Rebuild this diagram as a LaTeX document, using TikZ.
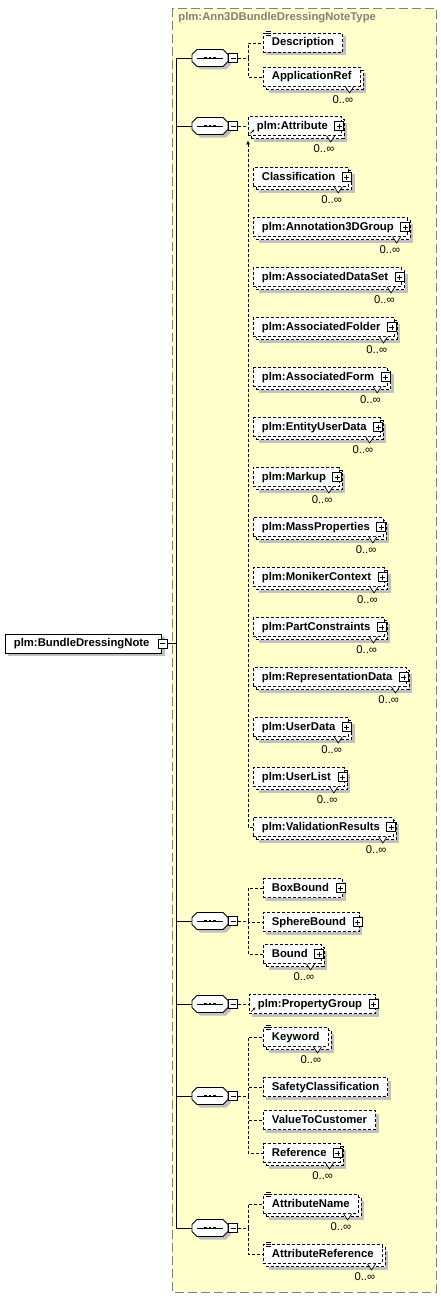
\documentclass[tikz,border=0pt]{standalone}
\usepackage{fontspec}
\setmainfont{Liberation Sans}
\usetikzlibrary{positioning,shadows,arrows.meta}
\definecolor{typeyellow}{RGB}{255,255,204}
\definecolor{typeborder}{RGB}{128,128,128}
\definecolor{shadowgrey}{RGB}{192,192,192}
\begin{document}
\begin{tikzpicture}[
    x=1pt, y=-1pt,
    line width=0.8pt,
    elem/.style={
        draw,
        dash pattern=on 3pt off 2pt,
        fill=white,
        anchor=west,
        inner xsep=8.5pt,
        inner ysep=0pt,
        text height=8.5pt,
        text depth=2.5pt,
        minimum height=19pt,
        font=\fontsize{11.3}{13}\selectfont\bfseries,
        drop shadow={shadow xshift=3pt, shadow yshift=-3pt, fill=shadowgrey, opacity=1}
    },
    root/.style={elem, solid, execute at end node={\hspace{3.5pt}}},
    many/.style={
        drop shadow={shadow xshift=6pt, shadow yshift=-6pt, fill=shadowgrey, opacity=1},
        copy shadow={shadow xshift=3pt, shadow yshift=-3pt, draw, dash pattern=on 3pt off 2pt, fill=white}
    },
    expand/.style={execute at end node={\hspace{5pt}}},
    member/.style={elem, expand, many},
    ref/.style={path picture={
        \draw[solid, line width=0.7pt, -{Stealth[length=2.5pt, width=2.5pt]}]
            ([shift={(2pt,2pt)}]path picture bounding box.south west) -- ++(4pt,4pt);}},
    pbox/.style={draw, solid, fill=white, minimum size=9pt, inner sep=0pt, line width=0.7pt,
        path picture={
            \draw ([xshift=2pt]path picture bounding box.west) -- ([xshift=-2pt]path picture bounding box.east)
                  ([yshift=2pt]path picture bounding box.south) -- ([yshift=-2pt]path picture bounding box.north);}},
    mbox/.style={draw, solid, fill=white, minimum size=9pt, inner sep=0pt, line width=0.7pt,
        path picture={
            \draw ([xshift=2pt]path picture bounding box.west) -- ([xshift=-2pt]path picture bounding box.east);}},
    seq/.style={minimum width=36pt, minimum height=17pt, inner sep=0pt},
    conn/.style={dash pattern=on 3pt off 2pt},
    occ/.style={font=\fontsize{11.3}{13}\selectfont, inner sep=0pt, anchor=east},
    title/.style={font=\fontsize{11.3}{13}\selectfont\bfseries, text=typeborder, inner sep=0pt, anchor=west},
    typebox/.style={draw=typeborder, fill=typeyellow, dash pattern=on 9pt off 4pt}
]
\useasboundingbox (0,0) rectangle (441,1298);

% complex type area
\draw[typebox] (172,8) rectangle (436,1292);
\node[title] (typename) at (178,18) {plm:Ann3DBundleDressingNoteType};

% root element
\node[root] (bdn) at (5,643.5) {plm:BundleDressingNote};
\node[mbox] (bdn-m) at ([xshift=0.5pt]bdn.east) {};

% sequences
\node[seq] (seqA) at (210,58) {};
\node[seq] (seqB) at (210,126) {};
\node[seq] (seqC) at (210,921) {};
\node[seq] (seqD) at (210,1004) {};
\node[seq] (seqE) at (210,1096) {};
\node[seq] (seqF) at (210,1228) {};
\foreach \s in {seqA,seqB,seqC,seqD,seqE,seqF} {
    \fill[shadowgrey] ([shift={(3pt,-3pt)}]\s.center) +(-18pt,3.5pt) -- +(-13pt,8.5pt) -- +(13pt,8.5pt) -- +(18pt,3.5pt)
        -- +(18pt,-3.5pt) -- +(13pt,-8.5pt) -- +(-13pt,-8.5pt) -- +(-18pt,-3.5pt) -- cycle;
    \draw[fill=white] (\s.center) +(-18pt,3.5pt) -- +(-13pt,8.5pt) -- +(13pt,8.5pt) -- +(18pt,3.5pt)
        -- +(18pt,-3.5pt) -- +(13pt,-8.5pt) -- +(-13pt,-8.5pt) -- +(-18pt,-3.5pt) -- cycle;
    \draw ([xshift=-13pt]\s.center) -- ([xshift=13pt]\s.center);
    \foreach \d in {-4.3,0,4.3}
        \fill ([xshift=\d pt]\s.center) +(-1.3pt,-1.3pt) rectangle +(1.3pt,1.3pt);
    \node[mbox, anchor=west] (\s-m) at (\s.east) {};
}

% first sequence
\node[elem] (desc) at (263,43) {Description};
\node[elem, many] (appref) at (263,77) {ApplicationRef};

% attribute substitution group
\node[elem, ref, expand, many] (attr) at (248,126) {plm:Attribute};
\node[member] (classif) at (253,177) {Classification};
\node[member, below=50pt of classif.west, anchor=west] (ann3d) {plm:Annotation3DGroup};
\node[member, below=50pt of ann3d.west, anchor=west] (assocds) {plm:AssociatedDataSet};
\node[member, below=50pt of assocds.west, anchor=west] (assocfolder) {plm:AssociatedFolder};
\node[member, below=50pt of assocfolder.west, anchor=west] (assocform) {plm:AssociatedForm};
\node[member, below=50pt of assocform.west, anchor=west] (entity) {plm:EntityUserData};
\node[member, below=50pt of entity.west, anchor=west] (markup) {plm:Markup};
\node[member, below=50pt of markup.west, anchor=west] (mass) {plm:MassProperties};
\node[member, below=50pt of mass.west, anchor=west] (moniker) {plm:MonikerContext};
\node[member, below=50pt of moniker.west, anchor=west] (partc) {plm:PartConstraints};
\node[member, below=50pt of partc.west, anchor=west] (repdata) {plm:RepresentationData};
\node[member, below=50pt of repdata.west, anchor=west] (userdata) {plm:UserData};
\node[member, below=50pt of userdata.west, anchor=west] (userlist) {plm:UserList};
\node[member, below=50pt of userlist.west, anchor=west] (valid) {plm:ValidationResults};

% bounds
\node[elem, expand] (boxb) at (263,888) {BoxBound};
\node[elem, expand] (sphere) at (263,922) {SphereBound};
\node[elem, expand, many] (bound) at (263,954) {Bound};

% property group
\node[elem, ref, expand] (propgrp) at (249,1004) {plm:PropertyGroup};

% classification data
\node[elem, many] (keyword) at (263,1037) {Keyword};
\node[elem] (safety) at (263,1087) {SafetyClassification};
\node[elem] (valuecust) at (263,1120) {ValueToCustomer};
\node[elem, expand, many] (reference) at (263,1153) {Reference};

% attribute names
\node[elem, many] (attrname) at (263,1204) {AttributeName};
\node[elem, many] (attrref) at (263,1254) {AttributeReference};

% expand boxes
\foreach \n in {attr,classif,ann3d,assocds,assocfolder,assocform,entity,markup,mass,moniker,
                partc,repdata,userdata,userlist,valid,boxb,sphere,bound,propgrp,reference}
    \node[pbox] (\n-p) at ([xshift=-2.5pt]\n.east) {};

% occurrences
\foreach \n in {appref,attr,classif,ann3d,assocds,assocfolder,assocform,entity,markup,mass,moniker,
                partc,repdata,userdata,userlist,valid,bound,keyword,reference,attrname,attrref} {
    \draw[solid, fill=white, line width=0.7pt] ([xshift=-15pt]\n.south east) -- ([shift={(-11pt,-6pt)}]\n.south east) -- ([xshift=-7pt]\n.south east);
    \node[occ] (\n-o) at ([shift={(-7pt,-12.5pt)}]\n.south east) {0..∞};
}

% documentation marks
\foreach \n in {desc,keyword,attrname,attrref}
    \draw[solid, line width=0.5pt]
        ([shift={(3pt,1.5pt)}]\n.north west) -- +(5pt,0pt)
        ([shift={(3pt,-0.3pt)}]\n.north west) -- +(5pt,0pt)
        ([shift={(3pt,-2.1pt)}]\n.north west) -- +(5pt,0pt);

% trunk
\coordinate (trunk) at ([xshift=-15pt]seqA.west);
\draw (trunk) -- (seqA.west);
\draw (trunk) |- (seqF.west);
\foreach \s in {seqB,seqC,seqD,seqE}
    \draw (\s.west) -- (\s.west -| trunk);
\draw (bdn-m.east) -- (bdn-m.east -| trunk);

% branches
\draw[conn] (seqA-m.east) -- ++(10pt,0pt) |- (desc.west);
\draw[conn] (seqA-m.east) -- ++(10pt,0pt) |- (appref.west);
\draw[conn] (seqB-m.east) -- (attr.west);
\draw[conn, -{Latex[length=4pt, width=4pt]}] (valid.west) -| ([yshift=-4.5pt]attr.south west);
\draw[conn] (seqC-m.east) -- ++(10pt,0pt) |- (boxb.west);
\draw[conn] (seqC-m.east) -- ++(10pt,0pt) |- (sphere.west);
\draw[conn] (seqC-m.east) -- ++(10pt,0pt) |- (bound.west);
\draw[conn] (seqD-m.east) -- (propgrp.west);
\draw[conn] (seqE-m.east) -- ++(10pt,0pt) |- (keyword.west);
\draw[conn] (seqE-m.east) -- ++(10pt,0pt) |- (safety.west);
\draw[conn] (seqE-m.east) -- ++(10pt,0pt) |- (valuecust.west);
\draw[conn] (seqE-m.east) -- ++(10pt,0pt) |- (reference.west);
\draw[conn] (seqF-m.east) -- ++(10pt,0pt) |- (attrname.west);
\draw[conn] (seqF-m.east) -- ++(10pt,0pt) |- (attrref.west);
\end{tikzpicture}
\end{document}
